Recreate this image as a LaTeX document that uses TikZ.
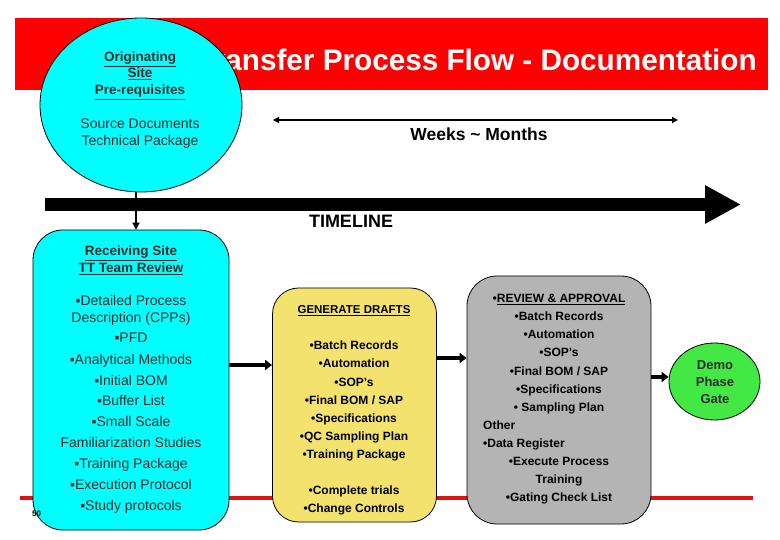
\documentclass[tikz,border=0pt]{standalone}
\usepackage{fontspec}
\setmainfont{Liberation Sans}
\usetikzlibrary{arrows.meta,shapes.geometric}
\definecolor{titlered}{RGB}{255,0,0}
\definecolor{lineRed}{RGB}{220,20,20}
\definecolor{cyanf}{RGB}{0,255,255}
\definecolor{yellowf}{RGB}{243,227,110}
\definecolor{grayf}{RGB}{180,180,180}
\definecolor{greenf}{RGB}{68,232,68}
\definecolor{darktxt}{RGB}{40,45,45}
\newcommand{\fsz}[1]{\fontsize{#1}{#1}\selectfont}
\tikzset{
  boxline/.style={draw=black, line width=0.8pt},
  cyantext/.style={anchor=base, inner sep=0pt, text=darktxt, font=\fsz{14}},
  cyanhead/.style={anchor=base, inner sep=0pt, text=darktxt, font=\bfseries\fsz{13.5}},
  boldtext/.style={anchor=base, inner sep=0pt, text=black, font=\bfseries\fsz{12}},
  bigarrow/.style={line width=3.5pt, -{Triangle[length=7pt,width=10pt]}},
  thinarrow/.style={line width=2pt, -{Triangle[length=7pt,width=7pt]}},
}
\begin{document}
\begin{tikzpicture}[x=1pt,y=-1pt]
\useasboundingbox (0,0) rectangle (780,540);
\fill[white] (0,0) rectangle (780,540);

% title bar
\fill[titlered] (15,18) rectangle (768,90);
\node[anchor=base east, inner sep=0pt, text=white, font=\bfseries\fsz{29.7}] (title) at (757,71) {Transfer Process Flow - Documentation};

% bottom red line
\coordinate (rl0) at (20,498);
\coordinate (rl1) at (753,498);
\draw[lineRed, line width=3.5pt] (rl0) -- (rl1);

% timeline
\coordinate (tl0) at (45,204.5);
\coordinate (tl1) at (741,204.5);
\draw[line width=13pt, -{Triangle[length=36pt,width=36pt]}] (tl0) -- (tl1);
\node[anchor=base, inner sep=0pt, font=\bfseries\fsz{18}] (timeline) at (351,227.5) {TIMELINE};

% weeks ~ months
\coordinate (wl) at (273,120);
\coordinate (wr) at (678,120);
\draw[line width=2.5pt, {Triangle[length=6pt,width=6pt]}-{Triangle[length=6pt,width=6pt]}] (wl) -- (wr);
\node[anchor=base, inner sep=0pt, font=\bfseries\fsz{17.5}] (weeks) at (479,140.5) {Weeks \char`~{} Months};

% originating circle
\node[ellipse, boxline, fill=cyanf, minimum width=202pt, minimum height=174pt, inner sep=0pt] (orig) at (141,105) {};
\node[cyanhead] (o1) at (140,62) {\underline{Originating}};
\node[cyanhead] (o2) at (140,78) {\underline{Site}};
\node[cyanhead] (o3) at (140,95) {\underline{Pre-requisites}};
\node[cyantext] (o4) at (140,129) {Source Documents};
\node[cyantext] (o5) at (140,146) {Technical Package};

% receiving box
\node[boxline, fill=cyanf, rounded corners=30pt, minimum width=196pt, minimum height=300pt, inner sep=0pt] (recv) at (131,380) {};
\node[cyanhead] (rh1) at (131,256) {\underline{Receiving Site}};
\node[cyanhead] (rh2) at (131,273) {\underline{TT Team Review}};
\foreach \yy/\txt [count=\i] in {306/{▪Detailed Process}, 323/{Description (CPPs)}, 343/{▪PFD}, 364/{▪Analytical Methods}, 385/{▪Initial BOM}, 405.5/{▪Buffer List}, 426/{▪Small Scale}, 447/{Familiarization Studies}, 468/{▪Training Package}, 489/{▪Execution Protocol}, 510/{▪Study protocols}}
  \node[cyantext] (ri\i) at (131,\yy) {\txt};
\node[anchor=base west, inner sep=0pt, font=\bfseries\fsz{8}] (slideno) at (32,516) {50};

% drafts box
\node[boxline, fill=yellowf, rounded corners=26pt, minimum width=164pt, minimum height=234pt, inner sep=0pt] (drafts) at (354.5,405) {};
\node[boldtext, font=\bfseries\fsz{11.5}] (dh) at (354,314) {\underline{GENERATE DRAFTS}};
\foreach \yy/\txt [count=\i] in {350/{•Batch Records}, 368/{•Automation}, 386/{•SOP’s}, 404/{•Final BOM / SAP}, 422/{•Specifications}, 440/{•QC Sampling Plan}, 458/{•Training Package}, 494/{•Complete trials}, 512/{•Change Controls}}
  \node[boldtext] (di\i) at (354,\yy) {\txt};

% review box
\node[boxline, fill=grayf, rounded corners=30pt, minimum width=184pt, minimum height=248pt, inner sep=0pt] (review) at (559,400) {};
\node[boldtext] (vh) at (559,303) {•\underline{REVIEW \& APPROVAL}};
\foreach \yy/\txt [count=\i] in {321/{•Batch Records}, 339/{•Automation}, 357/{•SOP’s}, 375/{•Final BOM / SAP}, 393/{•Specifications}, 411/{• Sampling Plan}, 465/{•Execute Process}, 483/{Training}, 501/{•Gating Check List}}
  \node[boldtext] (vi\i) at (559,\yy) {\txt};
\node[boldtext, anchor=base west] (vo) at (483,429) {Other};
\node[boldtext, anchor=base west] (vd) at (483,447) {•Data Register};

% demo phase gate
\node[ellipse, boxline, fill=greenf, minimum width=91pt, minimum height=77pt, inner sep=0pt] (demo) at (714.5,381.5) {};
\node[anchor=base, inner sep=0pt, font=\bfseries\fsz{13}, text=darktxt] (g1) at (715,370) {Demo};
\node[anchor=base, inner sep=0pt, font=\bfseries\fsz{13}, text=darktxt] (g2) at (715,386) {Phase};
\node[anchor=base, inner sep=0pt, font=\bfseries\fsz{13}, text=darktxt] (g3) at (715,403) {Gate};

% connectors
\path (orig.south) ++(-5,0) coordinate (os);
\draw[thinarrow] (os) -- (os |- recv.north);
\draw[bigarrow] ([yshift=15pt]recv.east) -- ([yshift=40pt]drafts.west);
\draw[bigarrow] ([yshift=47pt]drafts.east) -- ([yshift=42pt]review.west);
\draw[bigarrow] ([yshift=23pt]review.east) -- ([yshift=4.5pt]demo.west);
\end{tikzpicture}
\end{document}
